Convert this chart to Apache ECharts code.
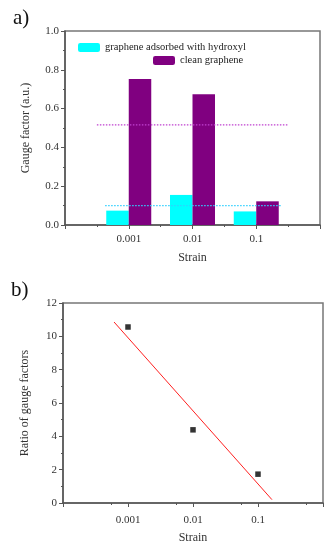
<!DOCTYPE html>
<html>
<head>
<meta charset="utf-8">
<script src="https://cdn.jsdelivr.net/npm/echarts@6/dist/echarts.min.js"></script>
<style>
html,body{margin:0;padding:0;background:#fff;}
#c{width:333px;height:550px;}
</style>
</head>
<body>
<div id="c"></div>
<script>
// ---- data ----
var strainLabels = ['0.001', '0.01', '0.1'];
var hydroxylGF = [0.074, 0.155, 0.070];
var cleanGF = [0.753, 0.674, 0.122];
var strainValues = [0.001, 0.01, 0.1];
var ratioValues = [10.56, 4.39, 1.73];
var fitStrain = [0.00061, 0.164];
var fitRatio = [10.86, 0.20];
var hydroxylAvgSpan = [0.63, 3.4];
var cleanAvgSpan = [0.5, 3.5];

function avg(a){ var s=0; for (var i=0;i<a.length;i++) s+=a[i]; return s/a.length; }

var FONT = 'Liberation Serif';
var AX = '#555';
var TXT = '#333';

var chart = echarts.init(document.getElementById('c'), null, {renderer:'canvas'});

function pairs(vals){ return vals.map(function(v,i){ return [i+1, v]; }); }

var option = {
  backgroundColor: '#fff',
  animation: false,
  textStyle: {fontFamily: FONT},
  title: [
    {text: 'a)', left: 8, top: 3, textStyle: {fontFamily: FONT, fontSize: 21, fontWeight: 'normal', color: '#111'}},
    {text: 'b)', left: 6, top: 275, textStyle: {fontFamily: FONT, fontSize: 21, fontWeight: 'normal', color: '#111'}}
  ],
  legend: [
    {data: ['graphene adsorbed with hydroxyl'], left: 78, top: 42, itemWidth: 22, itemHeight: 9, itemGap: 4,
     textStyle: {fontFamily: FONT, fontSize: 10.5, color: '#222'}, padding: 0, selectedMode: false},
    {data: ['clean graphene'], left: 153, top: 55, itemWidth: 22, itemHeight: 9,
     textStyle: {fontFamily: FONT, fontSize: 10.5, color: '#222'}, padding: 0, selectedMode: false}
  ],
  grid: [
    {left: 65, top: 31, right: 13, bottom: 325, show: true, borderColor: '#777', borderWidth: 1.5, backgroundColor: 'transparent'},
    {left: 63, top: 303, right: 10, bottom: 47, show: true, borderColor: '#777', borderWidth: 1.5, backgroundColor: 'transparent'}
  ],
  xAxis: [
    {gridIndex: 0, type: 'value', min: 0, max: 4, interval: 1,
     name: 'Strain', nameLocation: 'middle', nameGap: 27,
     nameTextStyle: {fontFamily: FONT, fontSize: 12, color: TXT},
     axisLine: {show: true, onZero: false, lineStyle: {color: AX, width: 1.5}},
     axisTick: {show: true, inside: false, length: 4, lineStyle: {color: AX}},
     minorTick: {show: true, splitNumber: 2, length: 2, lineStyle: {color: AX}},
     splitLine: {show: false}, minorSplitLine: {show: false},
     axisLabel: {fontFamily: FONT, fontSize: 11, color: TXT, margin: 9,
       formatter: function(v){ var i = Math.round(v) - 1; return (i >= 0 && i < strainLabels.length) ? strainLabels[i] : ''; }}
    },
    {gridIndex: 1, type: 'log', logBase: 10, min: 0.0001, max: 1,
     name: 'Strain', nameLocation: 'middle', nameGap: 29,
     nameTextStyle: {fontFamily: FONT, fontSize: 12, color: TXT},
     axisLine: {show: true, onZero: false, lineStyle: {color: AX, width: 1.5}},
     axisTick: {show: true, inside: false, length: 4, lineStyle: {color: AX}},
     minorTick: {show: true, splitNumber: 2, length: 2, lineStyle: {color: AX}},
     splitLine: {show: false}, minorSplitLine: {show: false},
     axisLabel: {fontFamily: FONT, fontSize: 11, color: TXT, margin: 12,
       formatter: function(v){ var e = Math.round(Math.log10(v)); var i = e + 3; return (i >= 0 && i < strainLabels.length) ? strainLabels[i] : ''; }}
    }
  ],
  yAxis: [
    {gridIndex: 0, type: 'value', min: 0, max: 1, interval: 0.2,
     name: 'Gauge factor (a.u.)', nameLocation: 'middle', nameGap: 33,
     nameTextStyle: {fontFamily: FONT, fontSize: 12, color: TXT},
     axisLine: {show: true, lineStyle: {color: AX, width: 1.5}},
     axisTick: {show: true, inside: false, length: 4, lineStyle: {color: AX}},
     minorTick: {show: true, splitNumber: 2, length: 2, lineStyle: {color: AX}},
     splitLine: {show: false},
     axisLabel: {fontFamily: FONT, fontSize: 11, color: TXT, margin: 6,
       formatter: function(v){ return v.toFixed(1); }}
    },
    {gridIndex: 1, type: 'value', min: 0, max: 12, interval: 2,
     name: 'Ratio of gauge factors', nameLocation: 'middle', nameGap: 32,
     nameTextStyle: {fontFamily: FONT, fontSize: 12, color: TXT},
     axisLine: {show: true, lineStyle: {color: AX, width: 1.5}},
     axisTick: {show: true, inside: false, length: 4, lineStyle: {color: AX}},
     minorTick: {show: true, splitNumber: 2, length: 2, lineStyle: {color: AX}},
     splitLine: {show: false},
     axisLabel: {fontFamily: FONT, fontSize: 11, color: TXT, margin: 6}
    }
  ],
  series: [
    {name: 'graphene adsorbed with hydroxyl', type: 'bar', xAxisIndex: 0, yAxisIndex: 0,
     data: pairs(hydroxylGF), barWidth: 22.5, barGap: '0%',
     itemStyle: {color: '#00ffff'}},
    {name: 'clean graphene', type: 'bar', xAxisIndex: 0, yAxisIndex: 0,
     data: pairs(cleanGF), barWidth: 22.5, barGap: '0%',
     itemStyle: {color: '#800080'}},
    {name: 'hydroxyl average', type: 'line', xAxisIndex: 0, yAxisIndex: 0, z: 5,
     data: hydroxylAvgSpan.map(function(x){ return [x, avg(hydroxylGF)]; }),
     symbol: 'none', silent: true,
     lineStyle: {color: '#30d0ff', type: [1.5, 1.5], width: 1.2}},
    {name: 'clean average', type: 'line', xAxisIndex: 0, yAxisIndex: 0, z: 5,
     data: cleanAvgSpan.map(function(x){ return [x, avg(cleanGF)]; }),
     symbol: 'none', silent: true,
     lineStyle: {color: '#c040d0', type: [1.5, 1.5], width: 1.2}},
    {name: 'ratio', type: 'scatter', xAxisIndex: 1, yAxisIndex: 1,
     data: strainValues.map(function(s,i){ return [s, ratioValues[i]]; }),
     symbol: 'rect', symbolSize: 5.5, itemStyle: {color: '#000'}},
    {name: 'fit', type: 'line', xAxisIndex: 1, yAxisIndex: 1,
     data: fitStrain.map(function(s,i){ return [s, fitRatio[i]]; }),
     symbol: 'none', lineStyle: {color: '#ff2020', width: 1}}
  ]
};
chart.setOption(option);
</script>
</body>
</html>
